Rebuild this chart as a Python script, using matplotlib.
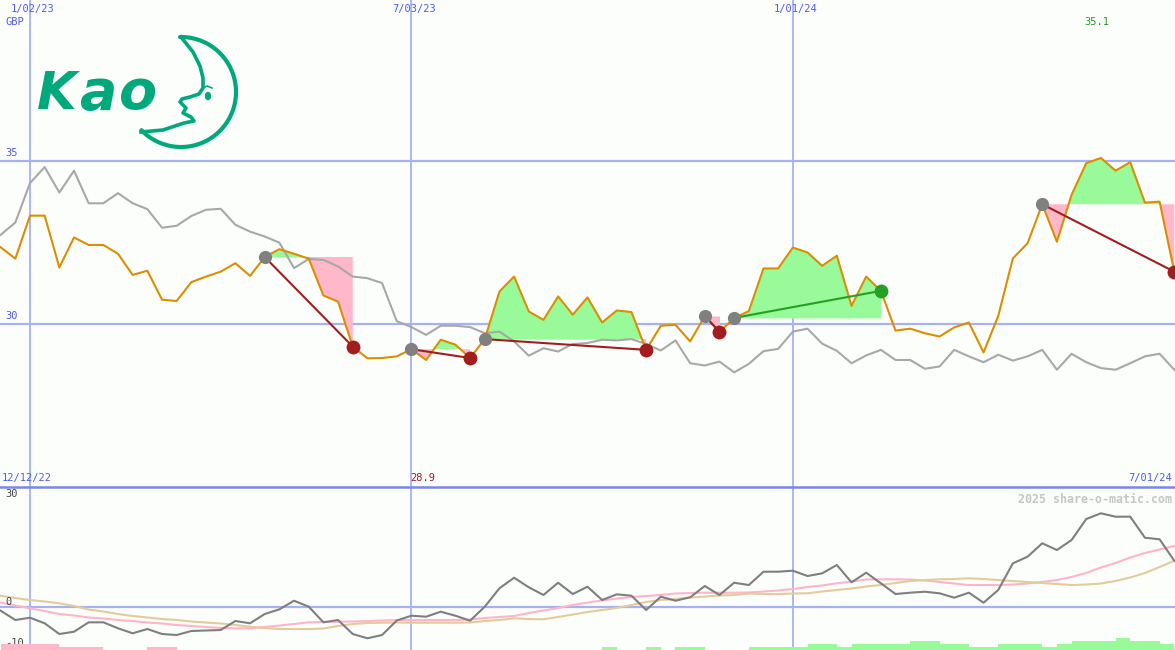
import numpy as np
import pandas as pd
import matplotlib
matplotlib.use("Agg")
import matplotlib.pyplot as plt
from matplotlib.lines import Line2D
from matplotlib.patches import Ellipse

# ---- Weekly data ----
weeks = pd.date_range("2022-12-19", "2024-07-01", freq="7D")
range_start = "2022-12-12"
date_ticks = ["2023-01-02", "2023-07-03", "2024-01-01"]
price_ticks = [35, 30]
osc_ticks = [30, 0, -10]

price = [32.36, 32.01, 33.33, 33.33, 31.74, 32.66, 32.43, 32.43, 32.16, 31.51, 31.64,
         30.75, 30.71, 31.29, 31.46, 31.61, 31.87, 31.48, 32.06, 32.30, 32.16, 32.01,
         30.88, 30.69, 29.31, 28.95, 28.96, 29.01, 29.23, 28.90, 29.52, 29.37,
         28.96, 29.54, 31.00, 31.46, 30.39, 30.13, 30.85, 30.29, 30.82, 30.05,
         30.42, 30.37, 29.21, 29.95, 29.98, 29.47, 30.25, 29.76, 30.19, 30.40,
         31.71, 31.71, 32.35, 32.20, 31.79, 32.10, 30.56, 31.46, 31.02, 29.80,
         29.86, 29.72, 29.62, 29.90, 30.05, 29.13, 30.25, 32.02, 32.48, 33.68,
         32.53, 33.97, 34.94, 35.10, 34.71, 34.97, 33.73, 33.76, 31.61]

index_line = [32.74, 33.12, 34.33, 34.82, 34.04, 34.71, 33.71, 33.71, 34.02, 33.71, 33.53,
              32.96, 33.02, 33.32, 33.51, 33.54, 33.05, 32.84, 32.69, 32.50, 31.72, 32.00,
              31.97, 31.77, 31.46, 31.41, 31.26, 30.09, 29.91, 29.67, 29.95, 29.95,
              29.91, 29.72, 29.77, 29.47, 29.03, 29.26, 29.16, 29.39, 29.42, 29.52,
              29.50, 29.54, 29.39, 29.19, 29.50, 28.80, 28.73, 28.85, 28.52, 28.78,
              29.17, 29.24, 29.77, 29.86, 29.40, 29.18, 28.80, 29.04, 29.21, 28.90,
              28.90, 28.63, 28.70, 29.21, 29.01, 28.83, 29.06, 28.88, 29.01, 29.21,
              28.60, 29.09, 28.83, 28.65, 28.60, 28.80, 29.01, 29.09, 28.60]

momentum = [-0.94, -3.53, -2.89, -4.44, -7.42, -6.78, -4.17, -4.17, -5.83, -7.22, -6.03,
            -7.42, -7.69, -6.58, -6.44, -6.31, -3.81, -4.44, -1.86, -0.56, 1.83, 0.17,
            -4.17, -3.53, -7.42, -8.61, -7.69, -3.67, -2.33, -2.61, -1.22, -2.33,
            -3.72, 0.17, 5.28, 8.22, 5.56, 3.42, 6.83, 3.69, 5.72, 2.03,
            3.61, 3.22, -0.75, 2.94, 1.83, 2.78, 5.92, 3.42, 6.83, 6.19,
            9.89, 9.89, 10.17, 8.69, 9.44, 11.75, 6.94, 9.61, 6.67, 3.69,
            4.06, 4.33, 3.89, 2.67, 4.06, 1.28, 4.81, 12.22, 14.06, 17.78,
            15.92, 18.69, 24.53, 26.11, 25.17, 25.17, 19.33, 18.89, 12.94]

mom_fast = [1.33, 0.50, -0.28, -1.03, -1.86, -2.28, -2.83, -3.11, -3.53, -3.81, -4.22,
            -4.50, -4.92, -5.19, -5.47, -5.75, -5.83, -5.83, -5.47, -5.06, -4.64, -4.17,
            -4.08, -4.00, -3.94, -3.81, -3.67, -3.53, -3.53, -3.53, -3.53, -3.53,
            -3.39, -2.97, -2.69, -2.42, -1.58, -0.89, -0.19, 0.64, 1.33, 1.89,
            2.44, 2.86, 3.14, 3.42, 3.83, 3.97, 4.06, 4.06, 4.06, 4.11,
            4.39, 4.67, 5.08, 5.64, 6.06, 6.67, 7.17, 7.72, 7.78, 7.78,
            7.72, 7.44, 7.03, 6.61, 6.19, 6.19, 6.19, 6.33, 6.61, 7.03,
            7.58, 8.42, 9.53, 11.06, 12.31, 13.83, 15.08, 16.06, 17.03]

mom_slow = [3.22, 2.58, 2.03, 1.61, 1.11, 0.36, -0.61, -1.17, -1.86, -2.42, -2.83,
            -3.25, -3.53, -3.94, -4.22, -4.50, -4.92, -5.39, -5.75, -6.03, -6.03, -6.03,
            -5.89, -5.19, -4.64, -4.36, -4.28, -4.22, -4.28, -4.28, -4.28, -4.28,
            -4.22, -3.81, -3.53, -3.06, -3.25, -3.33, -2.69, -2.00, -1.31, -0.75,
            -0.19, 0.64, 1.47, 2.03, 2.31, 2.72, 3.00, 3.28, 3.42, 3.83,
            3.69, 3.69, 3.83, 3.89, 4.39, 4.81, 5.22, 5.78, 6.19, 6.75,
            7.31, 7.58, 7.78, 7.86, 8.06, 7.86, 7.58, 7.31, 7.03, 6.75,
            6.47, 6.19, 6.33, 6.61, 7.31, 8.28, 9.53, 11.19, 12.94]

# one bar per week (negative = pink, positive = green)
signal_bars = [-2, -2, -2, -2, -1, -1, -1, 0, 0, 0, -1, -1] + [0] * 29 + \
              [1, 0, 0, 1, 0, 1, 1, 0, 0, 0, 1, 1, 1, 1, 2, 2, 1, 2, 2, 2, 2,
               3, 3, 2, 2, 1, 1, 2, 2, 2, 1, 2, 3, 3, 3, 4, 3, 3, 2]

# trades: index of entry and exit week
entry_idx = [18, 28, 33, 48, 50, 71]
exit_idx = [24, 32, 44, 49, 60, 80]
exit_win = [False, False, False, False, True, False]

# ---- Styling ----
bg = "#fcfefc"
grid = "#a6b2f4"
sep = "#7a86ea"
blue_txt = "#4f5cf2"
mono = "DejaVu Sans Mono"
fill_up, fill_dn = "#98fa98", "#ffb7ca"

t0 = pd.Timestamp("2023-01-02")
x = np.asarray((weeks - t0).days / 7.0)
price = np.array(price)
xlim = (-2.045, 78.05)

fig = plt.figure(figsize=(11.75, 6.5), dpi=100, facecolor=bg)
ax = fig.add_axes([0, 163 / 650, 1, 487 / 650])
axb = fig.add_axes([0, 0, 1, 163 / 650])
for a in (ax, axb):
    a.set_xlim(*xlim)
    a.set_axis_off()
ax.set_ylim(25.0, 39.95)
axb.set_ylim(-11.86, 33.42)

# ---- Grid ----
tick_x = (pd.to_datetime(date_ticks) - t0).days / 7.0
for tx, lab in zip(tick_x, pd.to_datetime(date_ticks)):
    ax.axvline(tx, color=grid, lw=1.3, zorder=1)
    axb.axvline(tx, color=grid, lw=1.3, zorder=1)
    ax.annotate(f"{lab.month}/{lab.day:02d}/{lab.year % 100:02d}", xy=(tx + 0.2, 1),
                xycoords=("data", "axes fraction"), xytext=(0, -3), textcoords="offset points",
                ha="center", va="top", color=blue_txt, family=mono, fontsize=7.5)
for py in price_ticks:
    ax.axhline(py, color=grid, lw=1.6, zorder=1)
    ax.annotate(str(py), xy=(0, py), xycoords=("axes fraction", "data"),
                xytext=(4, 2), textcoords="offset points", va="bottom",
                color=blue_txt, family=mono, fontsize=7.5)
ax.annotate("GBP", xy=(0, 1), xycoords="axes fraction", xytext=(4, -12),
            textcoords="offset points", va="top", color=blue_txt, family=mono, fontsize=7.5)
axb.axhline(0, color=grid, lw=1.6, zorder=1)
fig.add_artist(Line2D([0, 1], [163 / 650] * 2, transform=fig.transFigure, color=sep, lw=1.8))

# ---- Trade fills, lines and markers ----
for e, q, win in zip(entry_idx, exit_idx, exit_win):
    xs, ps, lvl = x[e:q + 1], price[e:q + 1], price[e]
    ax.fill_between(xs, ps, lvl, where=ps >= lvl, interpolate=True, color=fill_up, lw=0, zorder=2)
    ax.fill_between(xs, ps, lvl, where=ps <= lvl, interpolate=True, color=fill_dn, lw=0, zorder=2)

ax.plot(x, index_line, color="#a8a8a8", lw=1.5, zorder=3)
ax.plot(x, price, color="#dc8e00", lw=1.5, zorder=4)

for e, q, win in zip(entry_idx, exit_idx, exit_win):
    c = "#24a024" if win else "#a21e1e"
    ax.plot([x[e], x[q]], [price[e], price[q]], color=c, lw=1.5, zorder=5)
    ax.plot(x[e], price[e], "o", color="#808080", ms=9.5, mec="none", zorder=6)
    ax.plot(x[q], price[q], "o", color=c, ms=10, mec="none", zorder=6)

imax, imin = int(np.argmax(price)), int(np.argmin(price))
ax.annotate(f"{price[imax]:.1f}", xy=(x[imax] - 0.3, 1), xycoords=("data", "axes fraction"),
            xytext=(0, -12), textcoords="offset points", ha="center", va="top",
            color="#239a23", family=mono, fontsize=7.5)
ax.annotate(f"{price[imin]:.1f}", xy=(x[imin] - 0.25, 0), xycoords=("data", "axes fraction"),
            xytext=(0, 3), textcoords="offset points", ha="center", va="bottom",
            color="#a01c1c", family=mono, fontsize=7.5)
rs = pd.Timestamp(range_start)
ax.annotate(f"{rs.month}/{rs.day}/{rs.year % 100}", xy=(0, 0), xycoords="axes fraction",
            xytext=(1.5, 3), textcoords="offset points", ha="left", va="bottom",
            color=blue_txt, family=mono, fontsize=7.5)
ax.annotate(f"{weeks[-1].month}/{weeks[-1].day:02d}/{weeks[-1].year % 100}",
            xy=(1, 0), xycoords="axes fraction", xytext=(-2, 3), textcoords="offset points",
            ha="right", va="bottom", color=blue_txt, family=mono, fontsize=7.5)

# ---- Lower panel ----
axb.plot(x, mom_fast, color="#ffb4ca", lw=1.5, zorder=3)
axb.plot(x, mom_slow, color="#e3cb9b", lw=1.5, zorder=3)
axb.plot(x, momentum, color="#7f7f7f", lw=1.5, zorder=4)

axv = axb.twinx()
axv.set_axis_off()
axv.set_ylim(0, 54.3)
bars = np.array(signal_bars)
axv.bar(x[:-1], np.abs(bars), width=1.0, align="edge", lw=0,
        color=[fill_up if b > 0 else fill_dn for b in bars], zorder=2)

for v in osc_ticks:
    axb.annotate(str(v), xy=(0, v), xycoords=("axes fraction", "data"),
                 xytext=(4, 0), textcoords="offset points",
                 va="center" if v == -10 else "bottom",
                 color="#444444", family=mono, fontsize=7.5)
axb.annotate("2025 share-o-matic.com", xy=(1, 1), xycoords="axes fraction",
             xytext=(-2, -4), textcoords="offset points", ha="right", va="top",
             color="#c6c6c6", family=mono, fontsize=8.4, fontweight="bold")

# ---- Logo ----
ov = fig.add_axes([0, 0, 1, 1])
ov.set_xlim(0, 1175)
ov.set_ylim(650, 0)
ov.set_axis_off()
ov.patch.set_alpha(0)
kao = "#00a97c"
for ch, lx, fs in [("K", 37, 37), ("a", 79, 40), ("o", 119, 40)]:
    ov.text(lx, 109, ch, fontsize=fs, fontweight="bold", fontstyle="italic",
            color=kao, va="baseline", ha="left")
t = np.radians(np.linspace(-91, 136, 120))
ov.plot(181 + 55 * np.cos(t), 92 + 55 * np.sin(t), color=kao, lw=3, solid_capstyle="round")
face_x = [181, 193, 200, 203, 203, 199, 190, 182, 180, 186, 183, 191, 194, 184, 163, 141]
face_y = [37, 52, 66, 78, 88, 94, 97, 99, 102, 108, 113, 117, 121, 123, 130, 132]
ov.plot(face_x, face_y, color=kao, lw=2.6, solid_joinstyle="round")
ov.add_patch(Ellipse((208, 96), 5, 7, color=kao))
ov.plot([203, 207, 212], [88, 86, 88], color=kao, lw=1.2)

fig.savefig("out.png", dpi=100, facecolor=bg)
